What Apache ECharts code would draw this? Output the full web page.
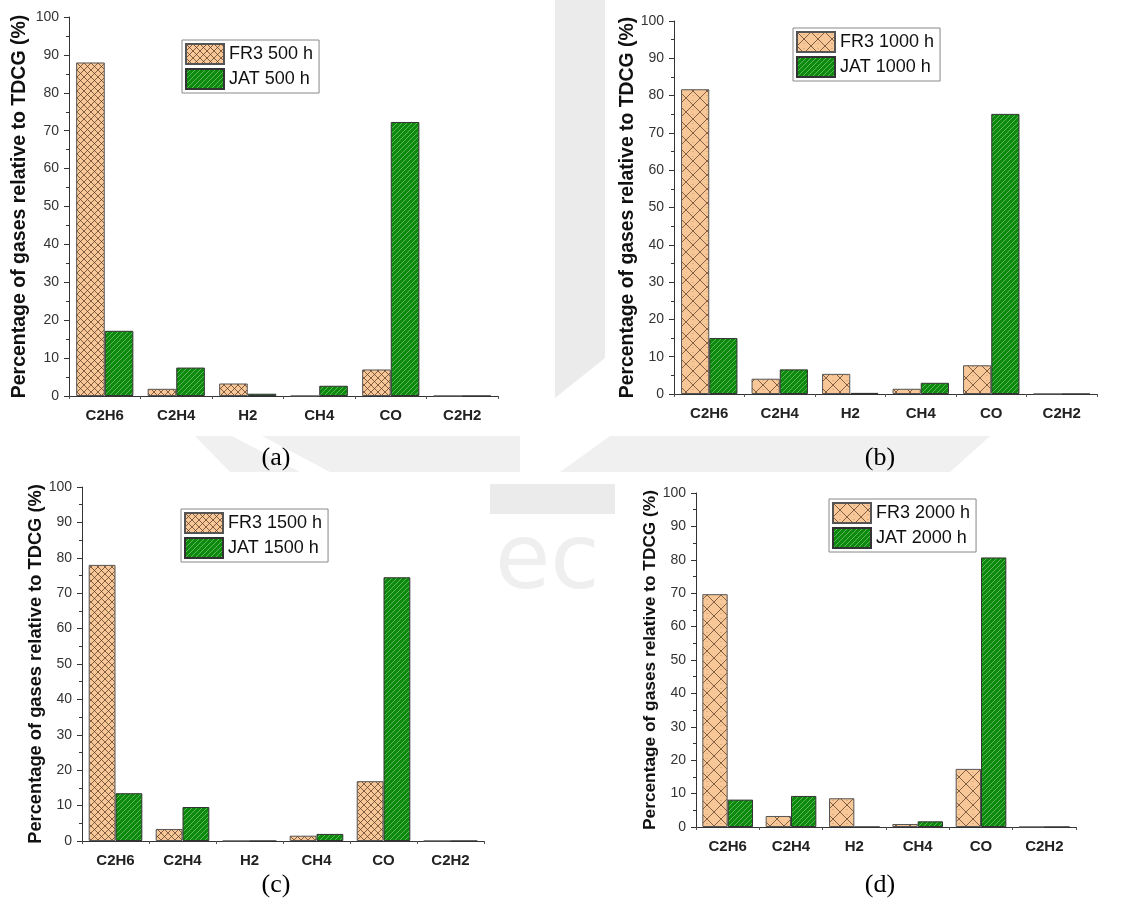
<!DOCTYPE html>
<html><head><meta charset="utf-8">
<script src="https://cdn.jsdelivr.net/npm/echarts@6/dist/echarts.min.js"></script>
<style>html,body{margin:0;padding:0;background:#fff}#c{width:1140px;height:909px}</style>
</head><body><div id="c"></div>
<script>
// ---- data ----
const categories = ['C2H6', 'C2H4', 'H2', 'CH4', 'CO', 'C2H2'];
const fr3_500  = [88.0, 1.9, 3.3, 0, 7.0, 0];
const jat_500  = [17.2, 7.5, 0.6, 2.7, 72.3, 0];
const fr3_1000 = [81.7, 4.1, 5.4, 1.4, 7.7, 0];
const jat_1000 = [15.0, 6.6, 0.3, 3.0, 75.1, 0];
const fr3_1500 = [78.0, 3.4, 0, 1.5, 16.9, 0];
const jat_1500 = [13.5, 9.6, 0, 2.0, 74.5, 0];
const fr3_2000 = [69.7, 3.3, 8.6, 0.9, 17.4, 0];
const jat_2000 = [8.2, 9.3, 0, 1.7, 80.7, 0];
const seriesNames = [['FR3 500 h', 'JAT 500 h'], ['FR3 1000 h', 'JAT 1000 h'], ['FR3 1500 h', 'JAT 1500 h'], ['FR3 2000 h', 'JAT 2000 h']];
const panelTags = ['(a)', '(b)', '(c)', '(d)'];
const yAxisTitle = 'Percentage of gases relative to TDCG (%)';
const yMin = 0, yMax = 100, yInterval = 10;

// ---- layout ----
const layouts = [
  {grid: {left: 69, top: 17, width: 429, height: 379}, legend: {left: 182, top: 40}, tag: [276, 458], hatch: 7, titleSize: 19.5, nameGap: 39},
  {grid: {left: 674, top: 21, width: 423, height: 373}, legend: {left: 793, top: 28}, tag: [880, 458], hatch: 14, titleSize: 19.4, nameGap: 37},
  {grid: {left: 82, top: 487, width: 402, height: 354}, legend: {left: 181, top: 509}, tag: [276, 885], hatch: 7, titleSize: 18.3, nameGap: 36},
  {grid: {left: 696, top: 493, width: 380, height: 334}, legend: {left: 829, top: 499}, tag: [880, 885], hatch: 14, titleSize: 17.3, nameGap: 36}
];

function crossHatch(size) {
  const c = document.createElement('canvas');
  c.width = c.height = size;
  const g = c.getContext('2d');
  g.fillStyle = '#F8C797';
  g.fillRect(0, 0, size, size);
  g.strokeStyle = 'rgba(80,50,30,0.7)';
  g.lineWidth = 1;
  g.beginPath();
  g.moveTo(0, 0); g.lineTo(size, size);
  g.moveTo(0, size); g.lineTo(size, 0);
  g.stroke();
  if (size > 10) {
    g.fillStyle = 'rgba(150,100,70,0.5)';
    g.fillRect(size / 2 - 0.5, 2, 1, 1);
    g.fillRect(size / 2 - 0.5, size - 3, 1, 1);
  }
  return c;
}
function diagHatch() {
  const s = 5;
  const c = document.createElement('canvas');
  c.width = c.height = s;
  const g = c.getContext('2d');
  g.fillStyle = '#0C8A0C';
  g.fillRect(0, 0, s, s);
  g.strokeStyle = 'rgba(255,255,255,0.35)';
  g.lineWidth = 1;
  g.beginPath();
  g.moveTo(0, s); g.lineTo(s, 0);
  g.stroke();
  return c;
}

const frData = [fr3_500, fr3_1000, fr3_1500, fr3_2000];
const jatData = [jat_500, jat_1000, jat_1500, jat_2000];

const option = {
  animation: false,
  backgroundColor: '#fff',
  grid: [], xAxis: [], yAxis: [], legend: [], series: [],
  graphic: []
};

// watermark shapes (light grey background marks)
option.graphic.push(
  {type: 'polygon', z: -10, shape: {points: [[555, 0], [605, 0], [605, 358], [555, 398]]}, style: {fill: '#ebebeb'}},
  {type: 'polygon', z: -10, shape: {points: [[195, 436], [520, 436], [520, 472], [230, 472]]}, style: {fill: '#f0f0f0'}},
  {type: 'polygon', z: -10, shape: {points: [[610, 436], [990, 436], [950, 472], [560, 472]]}, style: {fill: '#f0f0f0'}},
  {type: 'polygon', z: -10, shape: {points: [[232, 436], [262, 436], [330, 472], [300, 472]]}, style: {fill: '#fff'}},
  {type: 'rect', z: -10, shape: {x: 490, y: 484, width: 125, height: 30}, style: {fill: '#ebebeb'}},
  {type: 'text', z: -10, left: 495, top: 520, style: {text: 'ec', font: '90px "DejaVu Sans"', fill: '#efefef'}}
);

layouts.forEach((L, i) => {
  option.grid.push(Object.assign({containLabel: false}, L.grid));
  option.xAxis.push({
    type: 'category', gridIndex: i, data: categories,
    axisLine: {lineStyle: {color: '#333', width: 1}},
    axisTick: {alignWithLabel: true, length: 6, lineStyle: {color: '#333'}},
    axisLabel: {fontFamily: 'Arial, "Liberation Sans"', fontWeight: 'bold', fontSize: 15, color: '#222', margin: 12}
  });
  option.xAxis.push({
    type: 'value', gridIndex: i, min: 0, max: 6, interval: 1, position: 'bottom',
    axisLine: {show: false}, axisLabel: {show: false}, splitLine: {show: false},
    axisTick: {show: true, length: 3, lineStyle: {color: '#555'}}
  });
  option.yAxis.push({
    type: 'value', gridIndex: i, min: yMin, max: yMax, interval: yInterval,
    name: yAxisTitle, nameLocation: 'middle', nameGap: L.nameGap,
    nameTextStyle: {fontFamily: 'Arial, "Liberation Sans"', fontWeight: 'bold', fontSize: L.titleSize, color: '#111'},
    axisLine: {show: true, lineStyle: {color: '#333', width: 1}},
    axisTick: {show: true, length: 5, lineStyle: {color: '#333'}},
    minorTick: {show: true, splitNumber: 2, length: 3, lineStyle: {color: '#333'}},
    splitLine: {show: false},
    axisLabel: {fontFamily: 'Arial, "Liberation Sans"', fontSize: 14, color: '#333', margin: 10}
  });
  const fr = crossHatch(L.hatch), ja = diagHatch();
  option.series.push({
    type: 'bar', name: seriesNames[i][0], xAxisIndex: 2 * i, yAxisIndex: i, data: frData[i],
    barGap: '0%', barCategoryGap: '20%',
    itemStyle: {color: {image: fr, repeat: 'repeat'}, borderColor: '#555', borderWidth: 1}
  });
  option.series.push({
    type: 'bar', name: seriesNames[i][1], xAxisIndex: 2 * i, yAxisIndex: i, data: jatData[i],
    barGap: '0%', barCategoryGap: '20%',
    itemStyle: {color: {image: ja, repeat: 'repeat'}, borderColor: '#333', borderWidth: 1}
  });
  option.legend.push({
    data: seriesNames[i], orient: 'vertical', left: L.legend.left, top: L.legend.top,
    icon: 'rect', itemWidth: 38, itemHeight: 20, itemGap: 3,
    padding: [3, 6, 3, 3], borderColor: '#888', borderWidth: 1, backgroundColor: '#fff',
    textStyle: {fontFamily: 'Arial, "Liberation Sans"', fontSize: 18, color: '#111'},
    selectedMode: false
  });
  option.graphic.push({
    type: 'text', x: L.tag[0], y: L.tag[1],
    style: {text: panelTags[i], font: '26px "Liberation Serif", "Times New Roman", serif', fill: '#000', align: 'center', verticalAlign: 'middle'}
  });
});

const chart = echarts.init(document.getElementById('c'), null, {renderer: 'canvas'});
chart.setOption(option);
</script>
</body></html>
